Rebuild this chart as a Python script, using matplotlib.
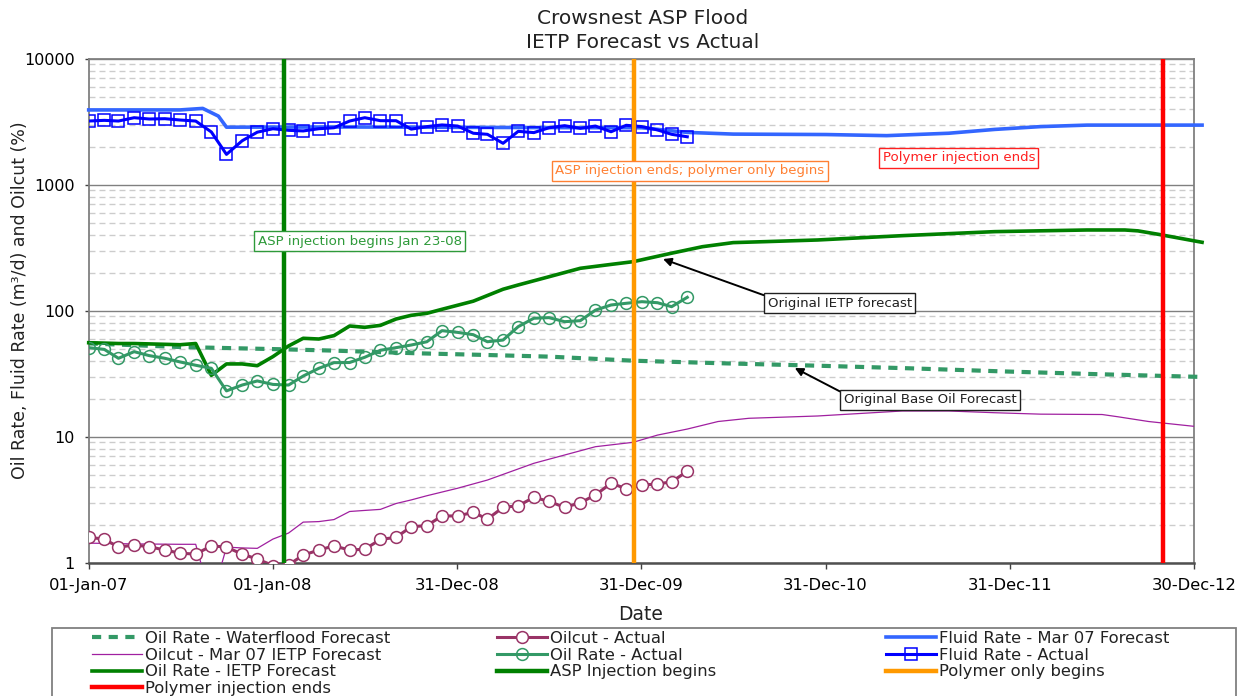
import pandas as pd
import numpy as np
import matplotlib
matplotlib.use('Agg')
import matplotlib.pyplot as plt
from matplotlib.patches import Rectangle
from matplotlib.ticker import LogLocator, NullFormatter, FixedLocator, FixedFormatter


# monthly actuals, Jan-07 .. Apr-10
months = pd.date_range('2007-01-01', periods=40, freq='MS')

fluid_actual = [3200, 3240, 3200, 3400, 3320, 3340, 3260, 3200, 2620, 1740, 2230, 2610,
                2780, 2700, 2670, 2780, 2830, 3200, 3400, 3220, 3220, 2760, 2890, 2980,
                2920, 2560, 2510, 2130, 2650, 2590, 2830, 2940, 2800, 2920, 2630, 2960,
                2890, 2720, 2510, 2400]

oil_actual = [50.9, 49.3, 41.9, 47.3, 44.0, 41.9, 39.2, 36.9, 34.9, 23.1, 25.7, 27.7,
              26.0, 25.7, 30.3, 34.9, 38.7, 38.8, 42.7, 48.5, 50.9, 53.4, 56.7, 69.4,
              67.3, 64.5, 56.7, 58.5, 74.7, 87.1, 88.1, 81.8, 83.3, 101, 111, 114.5,
              117.9, 115.7, 107.6, 127.7]

oilcut_actual = [1.59, 1.54, 1.33, 1.38, 1.34, 1.26, 1.19, 1.17, 1.36, 1.33, 1.17, 1.07,
                 0.95, 0.96, 1.15, 1.26, 1.36, 1.26, 1.28, 1.53, 1.59, 1.93, 1.97, 2.35,
                 2.35, 2.51, 2.22, 2.75, 2.83, 3.30, 3.07, 2.75, 2.99, 3.45, 4.27, 3.87,
                 4.14, 4.21, 4.39, 5.31]

# forecasts
fluid_fc_dates = ['2007-01-01', '2007-07-01', '2007-08-15', '2007-09-15', '2007-10-01', '2008-06-01',
                  '2009-06-01', '2010-01-01', '2010-04-01', '2010-07-01', '2011-01-01', '2011-05-01',
                  '2011-09-01', '2011-12-01', '2012-03-01', '2012-06-01', '2013-01-15']
fluid_fc = [3920, 3920, 4030, 3500, 2860, 2870, 2840, 2830, 2600, 2520, 2500, 2450,
            2560, 2745, 2890, 2970, 2970]

ietp_dates = ['2007-01-01', '2007-02-01', '2007-03-01', '2007-04-01', '2007-05-01', '2007-06-01',
              '2007-07-01', '2007-08-01', '2007-09-01', '2007-10-01', '2007-11-01', '2007-12-01',
              '2008-01-01', '2008-02-01', '2008-03-01', '2008-04-01', '2008-05-01', '2008-06-01',
              '2008-07-01', '2008-08-01', '2008-09-01', '2008-10-01', '2008-11-01', '2008-12-01',
              '2009-02-01', '2009-04-01', '2009-05-01', '2009-07-01', '2009-09-01', '2009-11-01',
              '2009-12-15', '2010-03-01', '2010-05-01', '2010-07-01', '2010-09-01', '2010-12-15',
              '2011-06-01', '2011-12-01', '2012-06-01', '2012-08-15', '2012-09-10', '2012-10-20',
              '2013-01-15']
ietp_fc = [55.7, 55.3, 54.9, 54.9, 54.5, 54.1, 53.7, 54.9, 30.7, 37.8, 37.8, 36.6,
           43.2, 52.5, 60.4, 59.6, 63.4, 75.6, 73.8, 76.5, 85.9, 91.9, 95.3, 102.6,
           119, 148, 160, 186, 217, 233, 245, 286, 322, 347, 353, 364,
           394, 424, 437, 437, 430, 404, 349]

wf_dates = ['2007-01-01', '2007-07-01', '2008-01-20', '2008-05-01', '2008-10-15', '2009-03-01',
            '2009-07-01', '2009-12-15', '2010-06-15', '2010-12-15', '2011-06-15', '2011-12-15',
            '2012-06-15', '2013-01-15']
wf_fc = [55.0, 51.5, 49.4, 48.2, 45.9, 44.5, 43.2, 40.1, 38.2, 36.6, 34.9, 33.0, 31.4, 29.8]

cut_fc_dates = ['2007-01-01', '2007-04-01', '2007-07-01', '2007-08-01', '2007-09-01', '2007-10-01',
                '2007-11-01', '2007-12-01', '2008-01-01', '2008-02-01', '2008-03-01', '2008-04-01',
                '2008-05-01', '2008-06-01', '2008-07-01', '2008-08-01', '2008-09-01', '2008-10-01',
                '2008-11-01', '2009-01-01', '2009-03-01', '2009-06-01', '2009-10-01', '2009-12-15',
                '2010-02-01', '2010-04-01', '2010-06-01', '2010-08-01', '2010-12-15', '2011-06-01',
                '2011-09-01', '2011-12-01', '2012-03-01', '2012-07-01', '2012-08-01', '2012-10-01',
                '2013-01-15']
cut_fc = [1.43, 1.41, 1.40, 1.40, 0.5, 1.33, 1.31, 1.30, 1.54, 1.72, 2.10, 2.12,
          2.20, 2.55, 2.60, 2.65, 2.95, 3.15, 3.40, 3.90, 4.53, 6.15, 8.33, 9.03,
          10.3, 11.5, 13.2, 14.0, 14.6, 16.0, 16.0, 15.5, 15.1, 15.0, 14.4, 13.2,
          11.9]

asp_begins = '2008-01-23'
polymer_only = '2009-12-16'
polymer_ends = '2012-10-30'

tick_labels = ['01-Jan-07', '01-Jan-08', '31-Dec-08', '31-Dec-09', '31-Dec-10', '31-Dec-11', '30-Dec-12']

d = lambda s: pd.to_datetime(s)

fig = plt.figure(figsize=(12.44, 6.96), dpi=100)
ax = fig.add_axes([0.0713, 0.1915, 0.8885, 0.7242])
ax.set_yscale('log')
ax.set_ylim(1, 10000)
ax.set_xlim(d(tick_labels[0]), d(tick_labels[-1]))

ax.yaxis.set_minor_locator(LogLocator(base=10, subs=np.arange(2, 10)))
ax.yaxis.set_minor_formatter(NullFormatter())
ax.yaxis.set_major_locator(FixedLocator([1, 10, 100, 1000, 10000]))
ax.yaxis.set_major_formatter(FixedFormatter(['1', '10', '100', '1000', '10000']))
ax.grid(which='major', axis='y', color='#808080', lw=1.0, ls='-', zorder=0)
ax.grid(which='minor', axis='y', color='#cccccc', lw=1.0, ls=(0, (4.3, 2.9)), zorder=0)
ax.set_axisbelow(True)

ax.set_xticks([d(t) for t in tick_labels])
ax.set_xticklabels(tick_labels)
ax.tick_params(axis='x', which='major', length=4, width=1, color='#404040', pad=7, labelsize=11.8)
ax.tick_params(axis='y', which='major', length=3, width=1, color='#404040', pad=7, labelsize=11.5)
ax.tick_params(axis='y', which='minor', length=0)
for s in ax.spines.values():
    s.set_color('#808080')
    s.set_linewidth(1.3)
ax.spines['bottom'].set_color('#505050')
ax.spines['bottom'].set_linewidth(1.8)

# series
l_wf, = ax.plot(pd.to_datetime(wf_dates), wf_fc, color='#339966', lw=3.0,
                ls=(0, (2.2, 1.8)), label='Oil Rate - Waterflood Forecast', zorder=3, clip_on=False)
l_cutfc, = ax.plot(pd.to_datetime(cut_fc_dates), cut_fc, color='#a020a0', lw=0.9,
                   label='Oilcut - Mar 07 IETP Forecast', zorder=3)
l_ietp, = ax.plot(pd.to_datetime(ietp_dates), ietp_fc, color='#008000', lw=2.6,
                  label='Oil Rate - IETP Forecast', zorder=4, clip_on=False)
l_fluidfc, = ax.plot(pd.to_datetime(fluid_fc_dates), fluid_fc, color='#3366ff', lw=2.6,
                     label='Fluid Rate - Mar 07 Forecast', zorder=3, clip_on=False)
l_cut, = ax.plot(months, oilcut_actual, color='#993366', lw=2.2, marker='o', ms=8.5,
                 mfc='white', mec='#993366', mew=1.1, label='Oilcut - Actual', zorder=5)
l_oil, = ax.plot(months, oil_actual, color='#339966', lw=2.2, marker='o', ms=8.5,
                 mfc='none', mec='#339966', mew=1.1, label='Oil Rate - Actual', zorder=5)
l_fluid, = ax.plot(months, fluid_actual, color='#0000ff', lw=2.2, marker='s', ms=8.5,
                   mfc='none', mec='#0000ff', mew=1.1, label='Fluid Rate - Actual', zorder=5)

# events
l_asp = ax.axvline(d(asp_begins), color='#008000', lw=3.2, zorder=6, label='ASP Injection begins')
l_poly = ax.axvline(d(polymer_only), color='#ff9900', lw=3.2, zorder=6, label='Polymer only begins')
l_end = ax.axvline(d(polymer_ends), color='#ff0000', lw=3.2, zorder=6, label='Polymer injection ends')

box = lambda c: dict(boxstyle='square,pad=0.25', fc='white', ec=c, lw=1.0)
ax.text(d('2008-06-21'), 357, 'ASP injection begins Jan 23-08', color='#2e9a3a', size=9.6,
        ha='center', va='center', bbox=box('#2e9a3a'), zorder=8)
ax.text(d('2010-04-06'), 1285, 'ASP injection ends; polymer only begins', color='#ff8033', size=9.6,
        ha='center', va='center', bbox=box('#ff8033'), zorder=8)
ax.text(d('2011-09-21'), 1629, 'Polymer injection ends', color='#ff2020', size=9.6,
        ha='center', va='center', bbox=box('#ff2020'), zorder=8)
ax.annotate('Original IETP forecast', xy=(d('2010-02-12'), 257), xytext=(d('2011-01-28'), 115),
            color='#202020', size=9.6, ha='center', va='center', bbox=box('#202020'), zorder=8,
            arrowprops=dict(arrowstyle='-|>', color='black', lw=1.4, relpos=(0, 1), shrinkA=0, shrinkB=0,
                            mutation_scale=12))
ax.annotate('Original Base Oil Forecast', xy=(d('2010-10-31'), 35.1), xytext=(d('2011-07-26'), 19.6),
            color='#202020', size=9.6, ha='center', va='center', bbox=box('#202020'), zorder=8,
            arrowprops=dict(arrowstyle='-|>', color='black', lw=1.4, relpos=(0, 1), shrinkA=0, shrinkB=0,
                            mutation_scale=12))

fig.text(643 / 1244, 1 - 18 / 696, 'Crowsnest ASP Flood', ha='center', va='center', size=14.5, color='#222222')
fig.text(643 / 1244, 1 - 43 / 696, 'IETP Forecast vs Actual', ha='center', va='center', size=14.5, color='#222222')
fig.text(641 / 1244, 1 - 614 / 696, 'Date', ha='center', va='center', size=13.5, color='#222222')
fig.text(20 / 1244, 1 - 300 / 696, 'Oil Rate, Fluid Rate (m³/d) and Oilcut (%)', rotation=90,
         ha='center', va='center', size=12.5, color='#222222')

# legend: three columns laid out by hand, one frame around them
columns = [([l_wf, l_cutfc, l_ietp, l_end], 92),
           ([l_cut, l_oil, l_asp], 497),
           ([l_fluidfc, l_fluid, l_poly], 886)]
for hs, x0 in columns:
    lg = fig.legend(hs, [h.get_label() for h in hs], loc='upper left',
                    bbox_to_anchor=(x0 / 1244, 1 - 631 / 696), frameon=False,
                    fontsize=11.8, handlelength=3.05, handletextpad=0.2,
                    labelspacing=0.1, borderpad=0, borderaxespad=0)
    for t in lg.get_texts():
        t.set_color('#222222')
fig.add_artist(Rectangle((52 / 1244, -0.1), 1184 / 1244, 0.1 + 1 - 628 / 696,
                         transform=fig.transFigure, fill=False, ec='#808080', lw=1.3))

plt.savefig('out.png', dpi=100)
